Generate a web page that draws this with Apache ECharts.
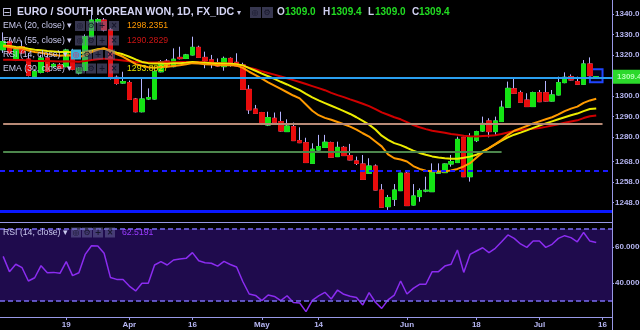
<!DOCTYPE html>
<html><head><meta charset="utf-8">
<script src="https://cdn.jsdelivr.net/npm/echarts@6/dist/echarts.min.js"></script>
<style>html,body{margin:0;padding:0;background:#000;}#c{width:640px;height:330px;}</style>
</head><body><div id="c"></div>
<script>
const dates = [
'2018-03-05','2018-03-06','2018-03-07','2018-03-08','2018-03-09','2018-03-12','2018-03-13','2018-03-14','2018-03-15','2018-03-16',
'2018-03-19','2018-03-20','2018-03-21','2018-03-22','2018-03-23','2018-03-26','2018-03-27','2018-03-28','2018-03-29','2018-03-30',
'2018-04-02','2018-04-03','2018-04-04','2018-04-05','2018-04-06','2018-04-09','2018-04-10','2018-04-11','2018-04-12','2018-04-13',
'2018-04-16','2018-04-17','2018-04-18','2018-04-19','2018-04-20','2018-04-23','2018-04-24','2018-04-25','2018-04-26','2018-04-27','2018-04-30',
'2018-05-01','2018-05-02','2018-05-03','2018-05-04','2018-05-07','2018-05-08','2018-05-09','2018-05-10','2018-05-11',
'2018-05-14','2018-05-15','2018-05-16','2018-05-17','2018-05-18','2018-05-21','2018-05-22','2018-05-23','2018-05-24','2018-05-25',
'2018-05-28','2018-05-29','2018-05-30','2018-05-31',
'2018-06-01','2018-06-04','2018-06-05','2018-06-06','2018-06-07','2018-06-08','2018-06-11','2018-06-12','2018-06-13','2018-06-14','2018-06-15',
'2018-06-18','2018-06-19','2018-06-20','2018-06-21','2018-06-22','2018-06-25','2018-06-26','2018-06-27','2018-06-28','2018-06-29',
'2018-07-02','2018-07-03','2018-07-04','2018-07-05','2018-07-06','2018-07-09','2018-07-10','2018-07-11','2018-07-12','2018-07-13',
'2018-07-16','2018-07-17'];
const tickDates = ['2018-03-19','2018-04-02','2018-04-16','2018-05-01','2018-05-14','2018-06-01','2018-06-18','2018-07-02','2018-07-16'];
const tickLabels = ['19','Apr','16','May','14','Jun','18','Jul','16'];

const open = [1322.5,1326.5,1318.0,1324.0,1318.0,1309.6,1311.5,1318.5,1314.3,1315.1,
1314.3,1321.5,1311.2,1312.5,1328.9,1336.2,1337.0,1332.2,1309.1,1306.3,
1306.5,1298.5,1292.3,1298.5,1298.5,1311.8,1317.0,1314.3,1318.8,1318.3,
1320.0,1323.7,1318.8,1317.6,1316.2,1314.3,1318.3,1316.4,1315.1,1303.2,
1293.6,1291.9,1285.8,1289.1,1287.5,1282.6,1285.0,1278.2,1277.2,1267.1,
1273.6,1274.9,1277.2,1270.4,1274.9,1270.9,1268.3,1266.8,1262.3,1265.8,
1254.1,1246.0,1249.6,1253.8,1262.3,1246.8,1250.9,1253.6,1253.3,1262.3,
1262.6,1266.8,1267.5,1279.8,1260.6,1278.2,1282.9,1287.8,1282.6,1287.5,
1294.5,1303.5,1301.6,1298.0,1294.8,1301.6,1301.6,1297.5,1300.5,1306.5,
1309.4,1307.0,1305.7,1315.6,1309.0];
const high = [1331.0,1328.0,1324.0,1327.0,1321.0,1313.0,1320.0,1320.5,1316.0,1316.0,
1323.0,1323.0,1314.0,1330.0,1339.5,1338.0,1338.0,1333.0,1310.0,1311.8,
1307.5,1299.0,1308.6,1303.7,1312.5,1317.5,1318.0,1323.2,1324.0,1320.5,
1328.9,1324.5,1321.6,1320.0,1318.3,1319.2,1318.8,1320.8,1316.2,1305.3,
1295.6,1292.2,1292.3,1291.9,1292.3,1288.6,1287.0,1284.7,1279.6,1276.9,
1281.0,1281.0,1277.7,1277.7,1275.5,1276.6,1270.4,1271.2,1269.6,1266.6,
1257.0,1251.7,1257.0,1262.5,1263.1,1257.0,1254.9,1260.6,1267.1,1267.1,
1267.0,1271.2,1280.1,1280.1,1281.8,1283.0,1289.9,1289.1,1289.9,1297.7,
1307.0,1308.6,1302.6,1301.3,1302.1,1302.9,1307.3,1302.9,1309.4,1311.5,
1310.5,1309.4,1317.5,1318.8,1309.4];
const low = [1321.0,1320.0,1317.0,1320.5,1309.5,1309.0,1311.0,1311.5,1313.8,1313.0,
1314.0,1312.5,1310.5,1312.0,1328.5,1335.5,1331.5,1308.0,1305.5,1306.0,
1298.0,1292.0,1292.0,1298.0,1298.3,1311.5,1314.0,1314.0,1317.8,1318.0,
1319.8,1318.5,1313.5,1313.5,1314.3,1312.3,1314.3,1314.4,1302.9,1291.2,
1291.2,1285.8,1285.3,1286.9,1282.6,1282.5,1278.1,1277.0,1267.4,1267.0,
1273.4,1274.7,1270.0,1270.2,1270.7,1268.6,1266.3,1259.2,1262.2,1254.0,
1245.6,1244.4,1246.3,1253.6,1246.4,1246.6,1248.4,1253.0,1253.3,1262.0,
1262.4,1265.5,1267.5,1260.6,1258.2,1277.5,1282.5,1279.8,1280.9,1287.3,
1294.3,1301.0,1296.7,1294.6,1294.6,1297.0,1297.3,1297.3,1300.3,1306.2,
1307.6,1305.5,1305.5,1309.7,1309.0];
const close = [1326.5,1321.0,1322.5,1321.0,1310.0,1312.0,1318.5,1312.0,1315.4,1313.5,
1322.4,1313.0,1313.6,1328.9,1337.0,1337.2,1332.2,1308.6,1306.1,1307.0,
1298.3,1292.3,1298.5,1299.2,1311.8,1316.7,1314.3,1317.9,1318.2,1320.0,
1323.7,1318.8,1317.2,1316.5,1314.6,1318.3,1316.2,1314.6,1303.2,1293.2,
1291.5,1286.1,1289.4,1287.1,1282.9,1285.3,1278.2,1277.2,1267.5,1274.0,
1275.3,1277.4,1270.1,1274.9,1270.9,1268.8,1267.1,1259.3,1265.8,1254.1,
1245.7,1250.4,1254.1,1262.3,1246.5,1251.2,1253.8,1254.0,1262.6,1262.8,
1266.8,1268.0,1278.8,1260.6,1279.8,1282.6,1286.6,1282.6,1287.8,1294.5,
1303.7,1301.3,1296.9,1294.8,1301.6,1297.2,1297.5,1300.5,1306.5,1309.1,
1307.8,1305.7,1315.6,1309.9,1309.4];

const ema20 = [1324.2,1323.9,1323.3,1323.1,1322.2,1321.4,1321.1,1320.5,1320.1,1319.6,
1319.9,1319.7,1318.9,1319.9,1321.4,1322.6,1323.3,1321.8,1320.4,1319.1,
1317.3,1315.5,1314.7,1314.0,1313.8,1314.1,1314.2,1314.6,1315.0,1315.4,
1316.0,1315.8,1315.5,1315.3,1315.0,1315.1,1315.0,1314.8,1313.7,1311.8,
1310.2,1308.4,1306.6,1305.0,1303.4,1301.8,1300.2,1298.8,1295.8,1292.8,
1290.6,1289.3,1288.4,1287.3,1286.2,1285.0,1283.6,1281.8,1280.2,1277.8,
1275.4,1271.5,1269.6,1269.0,1268.0,1265.8,1264.4,1263.5,1263.2,1263.1,
1263.2,1263.6,1264.4,1265.6,1267.2,1269.8,1272.4,1274.5,1276.5,1278.6,
1281.0,1283.0,1284.2,1285.3,1286.6,1287.6,1288.6,1289.6,1291.0,1292.6,
1293.8,1294.8,1296.6,1297.8,1298.6];
const ema30 = [1324.6,1324.4,1323.9,1323.7,1323.0,1322.5,1322.3,1321.9,1321.7,1321.4,
1321.5,1321.2,1320.8,1321.3,1322.1,1322.8,1323.1,1322.1,1321.1,1320.3,
1319.1,1317.8,1316.6,1316.0,1315.8,1315.8,1315.7,1315.9,1316.0,1316.2,
1316.5,1316.3,1316.2,1316.0,1315.8,1315.8,1315.7,1315.5,1314.9,1313.6,
1312.3,1310.9,1309.6,1308.3,1306.9,1305.6,1304.2,1302.8,1301.0,1299.3,
1297.8,1296.5,1295.2,1293.9,1292.6,1291.2,1289.6,1287.8,1286.0,1283.6,
1280.6,1278.6,1277.0,1276.0,1274.7,1273.3,1272.2,1271.3,1270.5,1270.0,
1269.6,1269.3,1269.4,1269.8,1270.4,1271.3,1272.9,1274.5,1276.4,1278.2,
1279.8,1281.1,1282.1,1283.2,1284.4,1285.5,1286.6,1287.6,1288.6,1289.6,
1290.6,1291.4,1292.6,1293.6,1293.9];
const ema55 = [1317.6,1317.6,1317.5,1317.5,1317.3,1317.1,1317.1,1317.0,1316.9,1316.8,
1316.9,1316.8,1316.7,1317.0,1317.5,1317.9,1318.2,1317.9,1317.6,1317.3,
1316.9,1316.5,1316.4,1316.3,1316.3,1316.4,1316.4,1316.4,1316.5,1316.5,
1316.6,1316.5,1316.4,1316.2,1316.0,1315.9,1315.7,1315.3,1314.6,1313.8,
1313.0,1312.0,1311.2,1310.4,1309.5,1308.6,1307.7,1306.8,1305.8,1304.8,
1303.8,1302.8,1301.5,1300.4,1299.4,1298.3,1297.3,1296.2,1295.0,1293.6,
1292.0,1290.8,1289.6,1288.6,1287.2,1285.8,1284.7,1283.8,1283.0,1282.5,
1282.0,1281.4,1281.1,1280.6,1280.3,1280.2,1280.4,1280.6,1280.8,1281.4,
1282.2,1282.9,1283.4,1283.7,1284.0,1284.4,1284.9,1285.6,1286.2,1286.9,
1287.5,1288.1,1289.2,1290.1,1290.5];
const rsi = [54.8,46.3,50.4,48.5,41.1,42.9,49.6,45.7,45.9,45.4,
51.9,44.1,45.7,55.9,60.7,60.6,56.5,43.1,42.0,42.0,
38.3,35.6,39.8,39.8,50.0,51.9,50.0,52.8,53.3,53.7,
56.9,52.4,51.3,51.0,49.4,52.0,50.3,48.9,40.7,33.9,
33.1,30.2,33.3,32.5,30.2,32.9,29.1,28.9,24.1,30.4,
32.8,34.8,31.1,36.1,33.7,32.6,31.9,27.8,34.6,29.3,
25.9,30.6,33.3,41.1,33.9,37.0,39.3,39.3,46.3,46.3,
49.4,50.4,58.3,45.9,55.9,57.8,59.6,56.9,59.3,62.9,
66.7,64.8,61.7,59.8,63.3,63.3,59.8,61.5,64.8,66.3,
65.2,62.9,68.1,63.3,62.5];

const priceTicks = [1248,1258,1268,1280,1290,1300,1320,1330,1340];
const rsiTicks = [40,60];
const rsiBands = [30,70];
const levelLightBlue = 1308.8, levelTan = 1286.6, levelGreen = 1272.8, levelDashed = 1263.3, levelBlue = 1243.7;
const lastPrice = 1309.4;
const boxRange = [1306.7, 1313.0];
const emaLegendValues = ['1298.2351','1290.2829','1293.8827'];
const rsiLegendValue = '62.5191';
const header = {O:'1309.0', H:'1309.4', L:'1309.0', C:'1309.4'};

const FONT = 'Liberation Sans, Arial, sans-serif';
const AX = '#9898e6', LBL = '#b6b6f2', WICK = '#b4b4ff', UP = '#14e414', DN = '#e80c0c';

const wickData = open.map((o,i)=>[o, close[i], low[i], high[i]]);
const bodyData = open.map((o,i)=>[o, close[i], Math.min(o,close[i]), Math.max(o,close[i])]);
const tickIdx = new Set(tickDates.map(d=>dates.indexOf(d)));
const isTick = (i)=>tickIdx.has(i);
const fmtX = (v)=>{const k=tickDates.indexOf(v);return k<0?'':tickLabels[k];};

const G = [];
function txt(x,y,text,fill,font){
  G.push({type:'text',z:100,x:x,y:y,style:{text:text,fill:fill,font:font,align:'left',textAlign:'left',verticalAlign:'middle',textVerticalAlign:'middle'}});
}
function icons(x0,yc,hl){
  const sy=['◎','⚙','+','×'];
  const xs=[0,11,22,34];
  sy.forEach((s,k)=>{
    const hot = hl && k===0;
    G.push({type:'rect',z:99,shape:{x:x0+xs[k],y:yc-5,width:10,height:10},style:{fill:hot?'#3ab0d8':'rgba(110,110,160,0.5)'}});
    G.push({type:'text',z:100,x:x0+xs[k]+5,y:yc,style:{text:s,fill:hot?'#e02060':'#16162a',font:'bold 8px DejaVu Sans',align:'center',textAlign:'center',verticalAlign:'middle',textVerticalAlign:'middle'}});
  });
}
const LF = '8.7px '+FONT, HF = 'bold 10.6px '+FONT, VF = 'bold 10px '+FONT;
txt(2,12.5,'⊟','#c4c4e4','12px DejaVu Sans');
txt(17,12.5,'EURO / SOUTH KOREAN WON, 1D, FX_IDC','#d6d6f6',HF);
txt(237,12.5,'▾','#c4c4e4','8px DejaVu Sans');
G.push({type:'rect',z:99,shape:{x:250,y:7,width:11,height:11},style:{fill:'rgba(110,110,160,0.5)'}});
G.push({type:'rect',z:99,shape:{x:262,y:7,width:11,height:11},style:{fill:'rgba(110,110,160,0.5)'}});
txt(251.5,12.5,'◎','#16162a','bold 8px DejaVu Sans');
txt(263.5,12.5,'⚙','#16162a','bold 8px DejaVu Sans');
txt(277,12.5,'O','#d0d0f0',VF); txt(285,12.5,header.O,'#22dd22',VF);
txt(323,12.5,'H','#d0d0f0',VF); txt(331,12.5,header.H,'#22dd22',VF);
txt(368,12.5,'L','#d0d0f0',VF); txt(375,12.5,header.L,'#22dd22',VF);
txt(412,12.5,'C','#d0d0f0',VF); txt(419,12.5,header.C,'#22dd22',VF);

txt(3,26,'EMA (20, close) ▾','#cacaee',LF); icons(75,26,false); txt(127,26,emaLegendValues[0],'#ff9900',LF);
txt(3,40.5,'EMA (55, close) ▾','#cacaee',LF); icons(75,40.5,false); txt(127,40.5,emaLegendValues[1],'#cc1414',LF);
txt(3,54.5,'RSI (14, close) ▾','#cacaee',LF); icons(71,54.5,true);
txt(3,68.5,'EMA (30, close) ▾','#cacaee',LF); icons(75,68.5,false); txt(127,68.5,emaLegendValues[2],'#e6e600',LF);
txt(3,232.5,'RSI (14, close) ▾','#cacaee',LF); icons(71,232.5,false); txt(122,232.5,rsiLegendValue,'#9b3cff',LF);

const gridBase = {left:0,right:28,containLabel:false,outerBoundsMode:'none'};
const chart = echarts.init(document.getElementById('c'), null, {renderer:'canvas'});
chart.setOption({
  backgroundColor:'#000000',
  animation:false,
  grid:[
    Object.assign({top:0,height:222},gridBase),
    Object.assign({top:222,height:95},gridBase),
    Object.assign({top:317,height:13},gridBase)
  ],
  xAxis:[
    {type:'category',gridIndex:0,data:dates,boundaryGap:true,
     axisLine:{show:true,onZero:false,lineStyle:{color:AX,width:1}},axisTick:{show:false},axisLabel:{show:false},splitLine:{show:false}},
    {type:'category',gridIndex:1,data:dates,boundaryGap:true,
     axisLine:{show:true,onZero:false,lineStyle:{color:AX,width:1}},
     axisTick:{show:true,interval:isTick,alignWithLabel:true,length:3,lineStyle:{color:AX}},
     axisLabel:{interval:isTick,formatter:fmtX,color:LBL,fontSize:8,fontWeight:'bold',fontFamily:FONT,margin:4},
     splitLine:{show:false}},
    {type:'category',gridIndex:2,data:dates,show:false}
  ],
  yAxis:[
    {type:'value',gridIndex:0,position:'right',min:1238.5,max:1346.8,splitLine:{show:false},
     axisLine:{show:true,lineStyle:{color:AX,width:1}},
     axisTick:{show:true,length:2,customValues:priceTicks,lineStyle:{color:AX}},
     axisLabel:{customValues:priceTicks,formatter:(v)=>v.toFixed(1),color:LBL,fontSize:8,fontWeight:'bold',fontFamily:FONT,margin:3}},
    {type:'value',gridIndex:1,position:'right',min:21.1,max:73.9,splitLine:{show:false},
     axisLine:{show:true,lineStyle:{color:AX,width:1}},
     axisTick:{show:true,length:2,customValues:rsiTicks,lineStyle:{color:AX}},
     axisLabel:{customValues:rsiTicks,formatter:(v)=>v.toFixed(4),color:LBL,fontSize:8,fontWeight:'bold',fontFamily:FONT,margin:3}},
    {type:'value',gridIndex:2,position:'right',min:0,max:1,splitLine:{show:false},
     axisLine:{show:true,lineStyle:{color:AX,width:1}},axisTick:{show:false},axisLabel:{show:false}}
  ],
  series:[
    {type:'candlestick',name:'wick',xAxisIndex:0,yAxisIndex:0,data:wickData,barWidth:5,silent:true,
     itemStyle:{color:WICK,color0:WICK,borderColor:WICK,borderColor0:WICK,borderWidth:1}},
    {type:'candlestick',name:'EURKRW',xAxisIndex:0,yAxisIndex:0,data:bodyData,barWidth:5,silent:true,
     itemStyle:{color:UP,color0:DN,borderColor:UP,borderColor0:DN,borderWidth:1},
     markLine:{symbol:['none','none'],silent:true,animation:false,label:{show:false},
       data:[
         {yAxis:levelLightBlue,lineStyle:{color:'#2a9ff0',width:2,type:'solid'}},
         [{coord:[dates[0],levelTan],lineStyle:{color:'#b88a76',width:2,type:'solid'}},{coord:[dates[95],levelTan]}],
         [{coord:[dates[0],levelGreen],lineStyle:{color:'#4d874d',width:2,type:'solid'}},{coord:[dates[79],levelGreen]}],
         {yAxis:levelDashed,lineStyle:{color:'#1a1aff',width:2,type:[5,4]}},
         {yAxis:levelBlue,lineStyle:{color:'#0a18ff',width:3,type:'solid'}}
       ]},
     markArea:{silent:true,itemStyle:{color:'rgba(20,40,255,0.12)',borderColor:'#2046ff',borderWidth:2},
       data:[[{xAxis:dates[93],yAxis:boxRange[1]},{xAxis:dates[95],yAxis:boxRange[0]}]]}
    },
    {type:'line',name:'EMA55',xAxisIndex:0,yAxisIndex:0,data:ema55,showSymbol:false,silent:true,lineStyle:{color:'#d00000',width:2}},
    {type:'line',name:'EMA30',xAxisIndex:0,yAxisIndex:0,data:ema30,showSymbol:false,silent:true,lineStyle:{color:'#ecec00',width:2}},
    {type:'line',name:'EMA20',xAxisIndex:0,yAxisIndex:0,data:ema20,showSymbol:false,silent:true,lineStyle:{color:'#ff9a00',width:2},
     markLine:{symbol:['none','none'],silent:true,animation:false,
       data:[{yAxis:lastPrice,lineStyle:{color:'rgba(0,0,0,0)',width:0},
          label:{show:true,position:'end',distance:1,formatter:lastPrice.toFixed(1),backgroundColor:'#2bd92b',color:'#b4ffb4',
                 fontSize:8,fontWeight:'bold',fontFamily:FONT,padding:[3,4,3,4]}}]}},
    {type:'line',name:'RSI',xAxisIndex:1,yAxisIndex:1,data:rsi,showSymbol:false,silent:true,lineStyle:{color:'#8b2cf0',width:1.5},
     markArea:{silent:true,itemStyle:{color:'#1f0b4d'},data:[[{yAxis:rsiBands[1]},{yAxis:rsiBands[0]}]]},
     markLine:{symbol:['none','none'],silent:true,label:{show:false},lineStyle:{color:'#7a6cf2',width:1.5,type:[5,3]},
       data:[{yAxis:rsiBands[1]},{yAxis:rsiBands[0]}]}}
  ],
  graphic:{elements:G}
});
</script>
</body></html>
